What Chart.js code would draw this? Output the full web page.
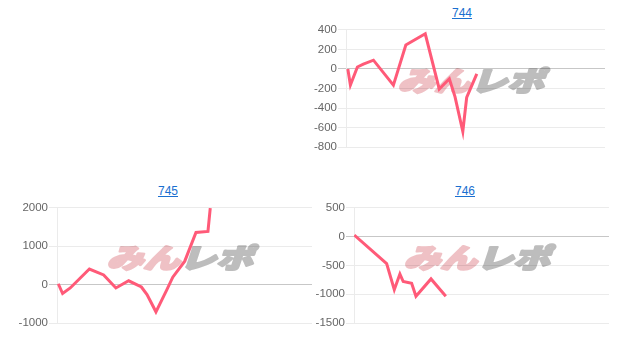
<!DOCTYPE html>
<html><head><meta charset="utf-8">
<script src="https://cdn.jsdelivr.net/npm/chart.js@4.4.0/dist/chart.umd.min.js"></script>
<style>
html,body{margin:0;padding:0;background:#fff;width:617px;height:349px;overflow:hidden;}
.t{position:absolute;width:80px;text-align:center;font:12px "Liberation Sans",Arial,sans-serif;line-height:14px;}
.t a{color:#1a6fd0;text-decoration:underline;}
.c{position:absolute;}
</style></head>
<body>
<div class="t" style="left:422px;top:6px;"><a href="#">744</a></div>
<div class="c" style="left:305px;top:22px;width:300px;height:133px;"><canvas id="c744"></canvas></div>
<div class="t" style="left:128px;top:184px;"><a href="#">745</a></div>
<div class="c" style="left:15px;top:200px;width:297px;height:131px;"><canvas id="c745"></canvas></div>
<div class="t" style="left:425px;top:184px;"><a href="#">746</a></div>
<div class="c" style="left:312px;top:200px;width:297px;height:131px;"><canvas id="c746"></canvas></div>
<script>
// chart titles
const titles = ["744", "745", "746"];
// x positions (game progress index, 0-100) and values
const x744 = [0.7, 1.7, 4.4, 6.7, 10.6, 18.3, 23.1, 30.6, 36.0, 39.9, 42.1, 45.1, 46.6, 50.5];
const y744 = [0, -165, 20, 50, 90, -165, 245, 360, -205, -100, -285, -640, -290, -50];
const x745 = [0.5, 2.2, 5.2, 12.7, 18.3, 23.1, 28.1, 33.1, 35.3, 38.8, 43.1, 45.4, 50.1, 54.5, 59.2, 60.1];
const y745 = [25, -230, -85, 408, 255, -85, 102, -60, -255, -706, -128, 196, 613, 1362, 1387, 1995];
const x746 = [0.1, 12.8, 15.8, 18.0, 19.3, 22.6, 24.3, 30.2, 36.0];
const y746 = [28, -466, -920, -648, -778, -807, -1034, -733, -1034];
// y-axis tick ranges
const ticks744 = {min: -800, max: 400, step: 200};
const ticks745 = {min: -1000, max: 2000, step: 1000};
const ticks746 = {min: -1500, max: 500, step: 500};

const watermark = {
  id: 'wm',
  beforeDraw(chart) {
    const a = chart.chartArea, ctx = chart.ctx;
    const cx = (a.left + a.right) / 2 - 1, cy = (a.top + a.bottom) / 2 - 9;
    ctx.save();
    ctx.font = '900 30px "Noto Sans CJK JP", "Noto Sans CJK SC", sans-serif';
    ctx.textBaseline = 'middle';
    const p1 = 'みん', p2 = 'レポ';
    const w1 = ctx.measureText(p1).width, w2 = ctx.measureText(p2).width;
    const total = w1 + w2;
    const sx = 146 / total;
    ctx.translate(cx, cy);
    ctx.transform(sx, 0, -0.3, 0.9, 0, 0);
    ctx.lineJoin = 'round';
    ctx.lineWidth = 2.5;
    ctx.fillStyle = ctx.strokeStyle = '#efc1c5';
    ctx.strokeText(p1, -total / 2, 1);
    ctx.fillText(p1, -total / 2, 1);
    ctx.fillStyle = ctx.strokeStyle = '#bdbdbd';
    ctx.strokeText(p2, -total / 2 + w1, 1);
    ctx.fillText(p2, -total / 2 + w1, 1);
    ctx.restore();
  }
};

function make(id, xs, ys, t, yw) {
  const data = xs.map((x, i) => ({x: x, y: ys[i]}));
  new Chart(document.getElementById(id), {
    type: 'line',
    data: {datasets: [{data: data, borderColor: 'rgb(255,90,120)', borderWidth: 3,
      pointRadius: 0, fill: false, tension: 0}]},
    options: {
      responsive: true, maintainAspectRatio: false, animation: false,
      plugins: {legend: {display: false}, tooltip: {enabled: false}},
      layout: {padding: 0},
      scales: {
        x: {type: 'linear', min: 0, max: 100, display: false},
        y: {
          min: t.min, max: t.max,
          ticks: {stepSize: t.step, color: '#666', padding: 1,
            callback: v => String(v),
            font: {family: '"Liberation Sans", Arial, sans-serif', size: 11.5}},
          grid: {color: c => (c.tick && c.tick.value === 0) ? 'rgba(0,0,0,0.22)' : 'rgba(0,0,0,0.08)',
            tickLength: 8, lineWidth: 1},
          border: {color: 'rgba(0,0,0,0.08)'},
          afterFit: s => { s.width = yw; }
        }
      }
    },
    plugins: [watermark]
  });
}
make('c744', x744, y744, ticks744, 41);
make('c745', x745, y745, ticks745, 42);
make('c746', x746, y746, ticks746, 42);
</script>
</body></html>
